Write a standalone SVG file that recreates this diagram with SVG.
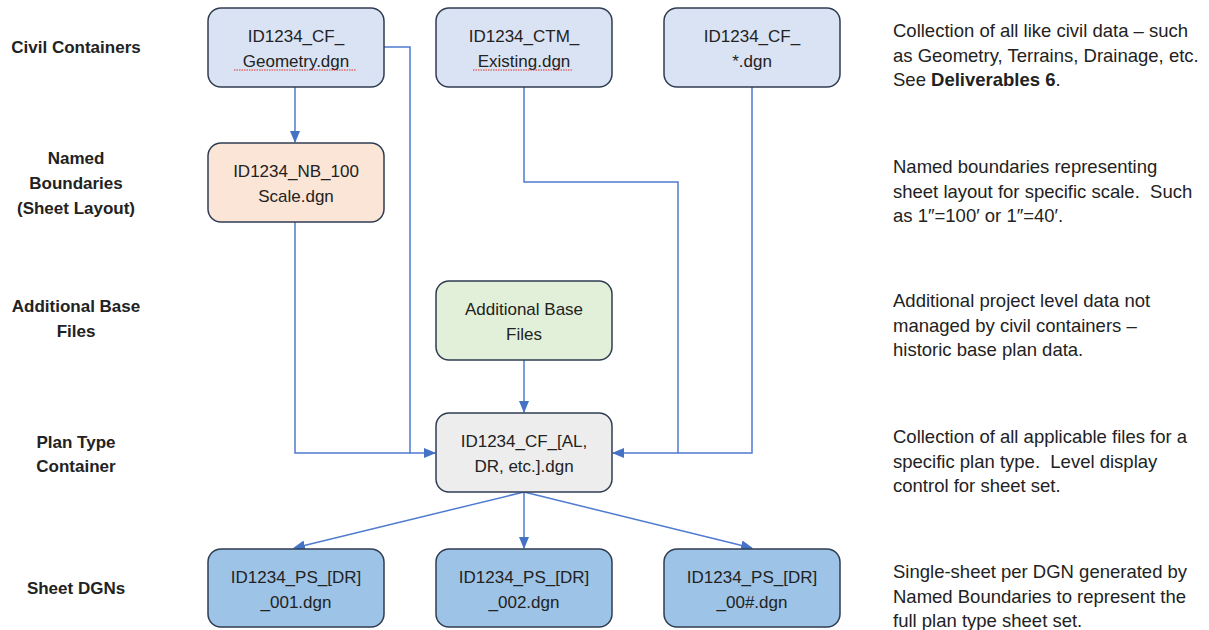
<svg xmlns="http://www.w3.org/2000/svg" width="1209" height="630" viewBox="0 0 1209 630">
<defs>
<style>
.box{stroke:#2f3d52;stroke-width:1.5}
.t{font-family:"Liberation Sans",Arial,sans-serif;font-size:17px;fill:#222;text-anchor:middle}
.lbl{font-family:"Liberation Sans",Arial,sans-serif;font-size:17px;font-weight:bold;fill:#222;text-anchor:middle}
.d{font-family:"Liberation Sans",Arial,sans-serif;font-size:18.5px;fill:#222;white-space:pre}
.c{fill:none;stroke:#4f7bd0;stroke-width:1.5}
.sq{fill:none;stroke:#e0302a;stroke-width:1;stroke-dasharray:1.5 1}
</style>
<marker id="ah" markerUnits="userSpaceOnUse" markerWidth="12" markerHeight="12" viewBox="0 0 12 12" refX="11" refY="6" orient="auto">
<path d="M0,1 L12,6 L0,11 Z" fill="#4472c4"/>
</marker>
</defs>
<rect width="1209" height="630" fill="#fff"/>

<g id="labels">
<text class="lbl" x="76" y="53">Civil Containers</text>
<text class="lbl" x="76" y="164">Named</text>
<text class="lbl" x="76" y="189">Boundaries</text>
<text class="lbl" x="76" y="214">(Sheet Layout)</text>
<text class="lbl" x="76" y="312">Additional Base</text>
<text class="lbl" x="76" y="337">Files</text>
<text class="lbl" x="76" y="448">Plan Type</text>
<text class="lbl" x="76" y="472">Container</text>
<text class="lbl" x="76" y="594">Sheet DGNs</text>
</g>

<g id="connectors">
<path class="c" d="M295,87 V142" marker-end="url(#ah)"/>
<path class="c" d="M384,47 H410 V453 H435" marker-end="url(#ah)"/>
<path class="c" d="M295,222 V453 H410"/>
<path class="c" d="M524,87 V182 H678 V453"/>
<path class="c" d="M752,87 V453 H613" marker-end="url(#ah)"/>
<path class="c" d="M524,360 V412" marker-end="url(#ah)"/>
<path class="c" d="M524,492 L294,548" marker-end="url(#ah)"/>
<path class="c" d="M524,492 V548" marker-end="url(#ah)"/>
<path class="c" d="M524,492 L752,548" marker-end="url(#ah)"/>
</g>

<g id="n-geometry">
<rect class="box" x="208" y="8" width="176" height="79" rx="13" fill="#dae3f3"/>
<text class="t" x="296" y="42">ID1234_CF_</text>
<text class="t" x="296" y="67">Geometry.dgn</text>
<path class="sq" d="M234,70 H356"/>
</g>
<g id="n-ctm">
<rect class="box" x="436" y="8" width="176" height="79" rx="13" fill="#dae3f3"/>
<text class="t" x="524" y="42">ID1234_CTM_</text>
<text class="t" x="524" y="67">Existing.dgn</text>
<path class="sq" d="M473,70 H573"/>
</g>
<g id="n-cfstar">
<rect class="box" x="664" y="8" width="176" height="79" rx="13" fill="#dae3f3"/>
<text class="t" x="752" y="42">ID1234_CF_</text>
<text class="t" x="752" y="67">*.dgn</text>
</g>
<g id="n-nb">
<rect class="box" x="208" y="143" width="176" height="79" rx="13" fill="#fbe5d6"/>
<text class="t" x="296" y="177">ID1234_NB_100</text>
<text class="t" x="296" y="202">Scale.dgn</text>
</g>
<g id="n-additional">
<rect class="box" x="436" y="281" width="176" height="79" rx="13" fill="#e2f0d9"/>
<text class="t" x="524" y="315">Additional Base</text>
<text class="t" x="524" y="340">Files</text>
</g>
<g id="n-plantype">
<rect class="box" x="436" y="413" width="176" height="79" rx="13" fill="#ededed"/>
<text class="t" x="524" y="447">ID1234_CF_[AL,</text>
<text class="t" x="524" y="472">DR, etc.].dgn</text>
</g>
<g id="n-sheet1">
<rect class="box" x="208" y="549" width="176" height="78" rx="13" fill="#9dc3e6"/>
<text class="t" x="296" y="583">ID1234_PS_[DR]</text>
<text class="t" x="296" y="608">_001.dgn</text>
</g>
<g id="n-sheet2">
<rect class="box" x="436" y="549" width="176" height="78" rx="13" fill="#9dc3e6"/>
<text class="t" x="524" y="583">ID1234_PS_[DR]</text>
<text class="t" x="524" y="608">_002.dgn</text>
</g>
<g id="n-sheet3">
<rect class="box" x="664" y="549" width="176" height="78" rx="13" fill="#9dc3e6"/>
<text class="t" x="752" y="583">ID1234_PS_[DR]</text>
<text class="t" x="752" y="608">_00#.dgn</text>
</g>

<g id="descriptions">
<text class="d" x="893" y="37">Collection of all like civil data – such</text>
<text class="d" x="893" y="62">as Geometry, Terrains, Drainage, etc.</text>
<text class="d" x="893" y="86">See <tspan font-weight="bold">Deliverables 6</tspan>.</text>
<text class="d" x="893" y="173">Named boundaries representing</text>
<text class="d" x="893" y="198" xml:space="preserve">sheet layout for specific scale.  Such</text>
<text class="d" x="893" y="222">as 1″=100′ or 1″=40′.</text>
<text class="d" x="893" y="307">Additional project level data not</text>
<text class="d" x="893" y="332">managed by civil containers –</text>
<text class="d" x="893" y="356">historic base plan data.</text>
<text class="d" x="893" y="443">Collection of all applicable files for a</text>
<text class="d" x="893" y="468" xml:space="preserve">specific plan type.  Level display</text>
<text class="d" x="893" y="492">control for sheet set.</text>
<text class="d" x="893" y="578">Single-sheet per DGN generated by</text>
<text class="d" x="893" y="603">Named Boundaries to represent the</text>
<text class="d" x="893" y="627">full plan type sheet set.</text>
</g>
</svg>
